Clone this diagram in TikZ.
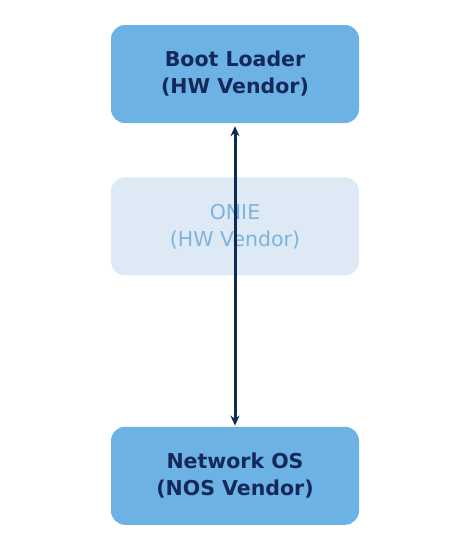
\documentclass[tikz,border=0pt]{standalone}
\usepackage{fontspec}
\setmainfont{DejaVu Sans}
\usetikzlibrary{arrows.meta, positioning}
\definecolor{cfill}{HTML}{6CB2E4}
\definecolor{cfaint}{HTML}{DDEAF6}
\definecolor{ctext}{HTML}{14285A}
\definecolor{cfainttext}{HTML}{7FB3DC}
\definecolor{cline}{HTML}{0F2A55}

\begin{document}
\begin{tikzpicture}[
  font=\fontsize{20.5}{27}\selectfont,
  >={Stealth[length=10pt, width=9pt]},
  box/.style={rounded corners=14pt, align=center, minimum width=248pt,
              minimum height=98pt, fill=cfill, text=ctext, font=\fontsize{20.5}{27}\selectfont\bfseries},
  faint/.style={box, fill=cfaint, text=cfainttext, font=\fontsize{20.5}{27}\selectfont},
  arr/.style={<->, line width=3pt, draw=cline},
  ]
\useasboundingbox (0,0) rectangle (467pt,-549pt);
% ---- boxes
\node[box] (boot) at (235pt,-74pt) {Boot Loader\\(HW Vendor)};
\node[faint, below=54pt of boot] (onie) {ONIE\\(HW Vendor)};
\node[box, below=151pt of onie] (nos) {Network OS\\(NOS Vendor)};
% ---- arrow
\draw[arr, shorten <=3pt, shorten >=1pt] (boot.south) -- (nos.north);
\end{tikzpicture}
\end{document}
